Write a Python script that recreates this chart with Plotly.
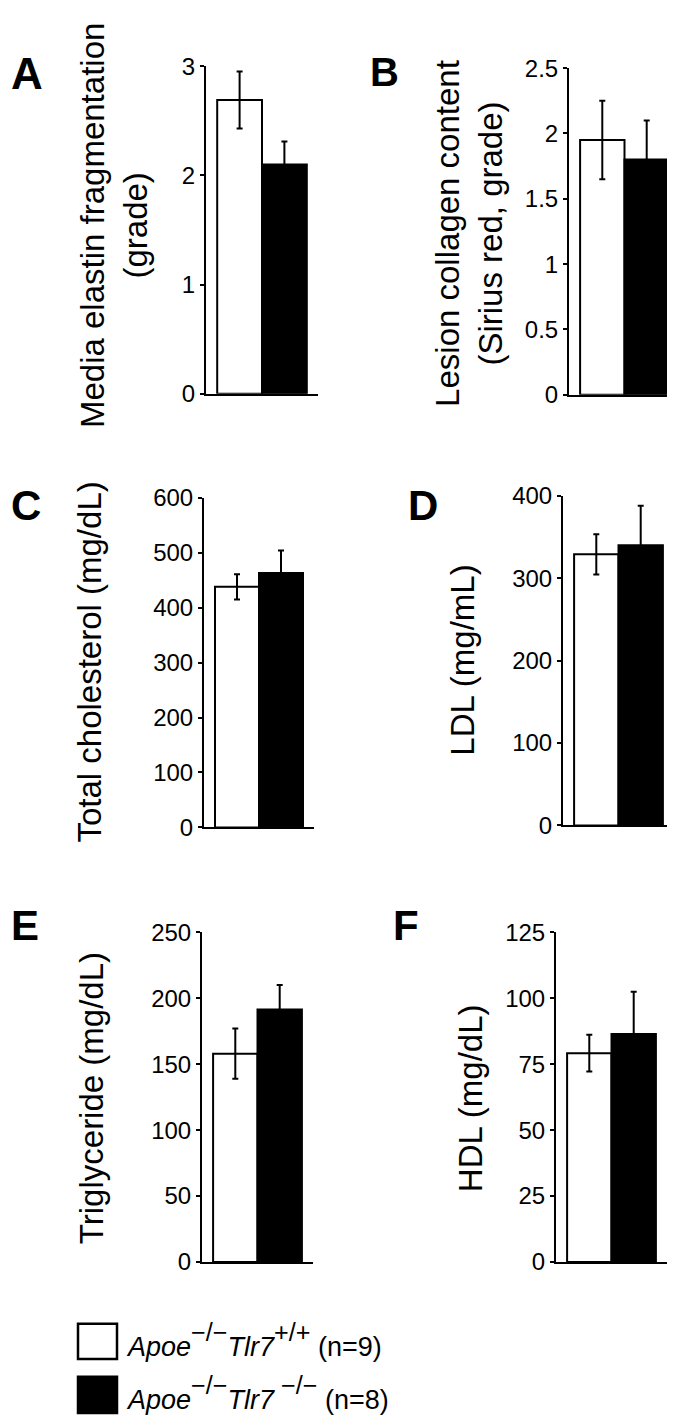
import plotly.graph_objects as go

W, H = 675, 1421
FONT = "Liberation Sans, Arial, Helvetica, sans-serif"

# ---------------- data ----------------
panel_letters = ["A", "B", "C", "D", "E", "F"]
y_titles = [
    "Media elastin fragmentation<br>(grade)",
    "Lesion collagen content<br>(Sirius red, grade)",
    "Total cholesterol (mg/dL)",
    "LDL (mg/mL)",
    "Triglyceride (mg/dL)",
    "HDL (mg/dL)",
]
group_names = ["Apoe", "Tlr7"]
group_genotypes = [["−/−", "+/+"], ["−/−", "−/−"]]
group_n = ["(n=9)", "(n=8)"]
wt_mean = [2.69, 1.95, 438, 329, 158, 79.2]
wt_err = [0.26, 0.30, 23, 24.5, 19, 7.0]
ko_mean = [2.10, 1.80, 463, 340, 191.5, 86.5]
ko_err = [0.21, 0.30, 41, 48, 18.5, 16.0]
y_max = [3, 2.5, 600, 400, 250, 125]
tick_vals = [
    [0, 1, 2, 3],
    [0, 0.5, 1, 1.5, 2, 2.5],
    [0, 100, 200, 300, 400, 500, 600],
    [0, 100, 200, 300, 400],
    [0, 50, 100, 150, 200, 250],
    [0, 25, 50, 75, 100, 125],
]
tick_text = [
    ["0", "1", "2", "3"],
    ["0", "0.5", "1", "1.5", "2", "2.5"],
    ["0", "100", "200", "300", "400", "500", "600"],
    ["0", "100", "200", "300", "400"],
    ["0", "50", "100", "150", "200", "250"],
    ["0", "25", "50", "75", "100", "125"],
]

# ---------------- layout geometry (pixels) ----------------
boxes = [
    (198, 310, 45, 379),
    (561, 672, 47, 380),
    (196, 306, 485, 821),
    (555, 666, 483, 819),
    (194, 305, 928, 1264),
    (548, 659, 928, 1264),
]
title_pos = [(106, 208), (461, 216), (82, 653), (455, 651), (83, 1097), (462, 1097)]
letter_pos = [(1, 40, 44), (360, 40, 40), (1, 481, 42), (398, 481, 42), (1, 909, 42), (383, 909, 42)]


def px(x):
    return x / W


def py(y):
    return 1 - y / H


fig = go.Figure()
layout = dict(
    width=W, height=H,
    margin=dict(l=0, r=0, t=0, b=0),
    paper_bgcolor="white", plot_bgcolor="white",
    showlegend=False,
    font=dict(family=FONT, color="black"),
)
annotations = []
shapes = []

for i in range(6):
    n = "" if i == 0 else str(i + 1)
    x0, x1, yt, yb = boxes[i]
    fig.add_trace(go.Bar(
        x=[0, 1], y=[wt_mean[i], ko_mean[i]], width=1,
        marker=dict(color=["white", "black"], line=dict(color="black", width=2)),
        error_y=dict(type="data", array=[wt_err[i], ko_err[i]], color="black",
                     thickness=2, width=3),
        xaxis="x" + n, yaxis="y" + n, hoverinfo="skip",
    ))
    layout["xaxis" + n] = dict(
        domain=[px(x0), px(x1)], range=[-0.75, 1.75], anchor="y" + n,
        showline=True, linecolor="black", linewidth=2, ticks="",
        showticklabels=False, showgrid=False, zeroline=False,
    )
    layout["yaxis" + n] = dict(
        domain=[py(yb), py(yt)], range=[0, y_max[i]], anchor="x" + n,
        showline=True, linecolor="black", linewidth=2,
        ticks="outside", ticklen=4, tickwidth=2, tickcolor="black",
        tickvals=tick_vals[i], ticktext=tick_text[i],
        tickfont=dict(size=24, family=FONT, color="black"),
        showgrid=False, zeroline=False,
    )
    tx, ty = title_pos[i]
    annotations.append(dict(
        text=y_titles[i], x=px(tx), y=py(ty), xref="paper", yref="paper",
        xanchor="center", yanchor="middle", textangle=-90, showarrow=False,
        font=dict(size=33, family=FONT, color="black"),
    ))
    lx, ly, fs = letter_pos[i]
    annotations.append(dict(
        text="<b>" + panel_letters[i] + "</b>", x=px(lx), y=py(ly - 0.19 * fs - 6),
        xref="paper", yref="paper", xanchor="left", yanchor="top",
        showarrow=False, font=dict(size=fs, family=FONT, color="black"),
    ))

# ---------------- legend ----------------
legend_fill = ["white", "black"]
sq = [(70, 1327, 109, 1363), (70, 1381, 109, 1418)]
base = [1354, 1408]
gap = ["", " "]
for k in range(2):
    a, b, c, d = sq[k]
    shapes.append(dict(type="rect", xref="paper", yref="paper",
                       x0=px(a), x1=px(c), y0=py(d), y1=py(b),
                       fillcolor=legend_fill[k], line=dict(color="black", width=2.5)))
    g1, g2 = group_genotypes[k]
    txt = ("<i>" + group_names[0] + "</i>"
           + "<span style='font-size:36px'><sup>" + g1 + "</sup></span>"
           + "<i>" + group_names[1] + "</i>"
           + "<span style='font-size:36px'><sup>" + gap[k] + g2 + "</sup></span>"
           + " " + group_n[k])
    annotations.append(dict(
        text=txt, x=px(116), y=py(base[k] - 10), xref="paper", yref="paper",
        xanchor="left", yanchor="middle", showarrow=False,
        font=dict(size=27, family=FONT, color="black"),
    ))

layout["annotations"] = annotations
layout["shapes"] = shapes
fig.update_layout(**layout)
fig.write_html("out.html")
